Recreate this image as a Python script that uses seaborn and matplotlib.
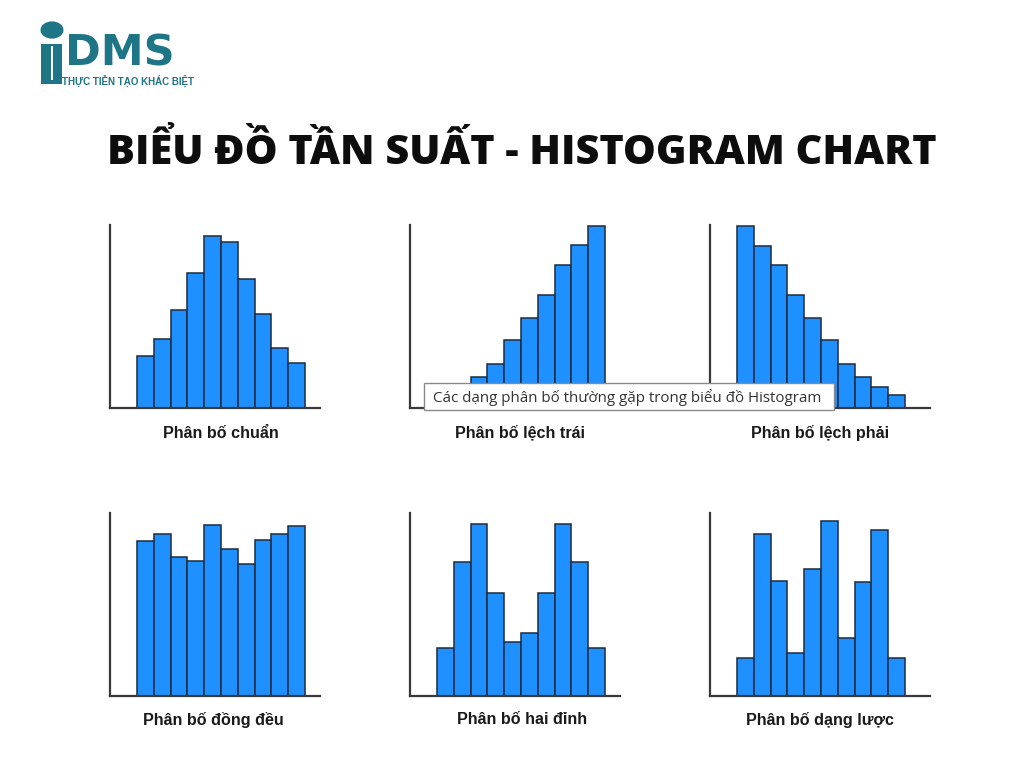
import matplotlib
matplotlib.use("Agg")
import matplotlib.pyplot as plt
import matplotlib.patches as mpatches
import seaborn as sns
import pandas as pd

# ---- data (bar heights, arbitrary frequency units) ----
bins = list(range(1, 11))
chuan = [52, 69, 98, 135, 172, 166, 129, 94, 60, 45]
lech_trai = [13, 21, 31, 44, 68, 90, 113, 143, 163, 182]
lech_phai = [182, 162, 143, 113, 90, 68, 44, 31, 21, 13]
dong_deu = [155, 162, 139, 135, 171, 147, 132, 156, 162, 170]
hai_dinh = [48, 134, 172, 103, 54, 63, 103, 172, 134, 48]
dang_luoc = [38, 162, 115, 43, 127, 175, 58, 114, 166, 38]

labels = ["Phân bố chuẩn", "Phân bố lệch trái", "Phân bố lệch phải",
          "Phân bố đồng đều", "Phân bố hai đỉnh", "Phân bố dạng lược"]
series = [chuan, lech_trai, lech_phai, dong_deu, hai_dinh, dang_luoc]

title = "BIỂU ĐỒ TẦN SUẤT - HISTOGRAM CHART"
tooltip = "Các dạng phân bố thường gặp trong biểu đồ Histogram"
brand = "DMS"
tagline = "THỰC TIỄN TẠO KHÁC BIỆT"

sns.set_theme(style="white")
plt.rcParams['font.family'] = ['Liberation Sans', 'DejaVu Sans']

W, H = 1024, 768
fig = plt.figure(figsize=(W / 100, H / 100), dpi=100)
fig.patch.set_facecolor("white")

def fx(px):
    return px / W

def fy(py):
    return 1 - py / H

# axes layout in pixels: (left, right, baseline, top)
layout = [(110, 320, 408, 225), (410, 620, 408, 225), (710, 930, 408, 225),
          (110, 320, 696, 513), (410, 620, 696, 513), (710, 930, 696, 513)]
label_pos = [(221, 433), (520, 433), (820, 433), (213, 720), (522, 720), (820, 720)]

BAR = "#1E90FF"
EDGE = "#1d2b3f"
unit = 16.8  # px per bin

for vals, (l, r, b, t), lab, (lx, ly) in zip(series, layout, labels, label_pos):
    ax = fig.add_axes([fx(l), fy(b), fx(r - l), (b - t) / H])
    df = pd.DataFrame({"bin": bins, "freq": vals})
    sns.barplot(data=df, x="bin", y="freq", ax=ax, color=BAR, width=1.0,
                edgecolor=EDGE, linewidth=1.1, saturation=1)
    x0 = -0.5 - 27 / unit
    ax.set_xlim(x0, x0 + (r - l) / unit)
    ax.set_ylim(0, b - t)
    ax.set_xticks([])
    ax.set_yticks([])
    ax.set_xlabel("")
    ax.set_ylabel("")
    for s in ["top", "right"]:
        ax.spines[s].set_visible(False)
    for s in ["left", "bottom"]:
        ax.spines[s].set_color("#3a3a3a")
        ax.spines[s].set_linewidth(1.6)
    ax.patch.set_alpha(0)
    fig.text(fx(lx), fy(ly), lab, ha="center", va="center",
             fontsize=11.6, fontweight="bold", color="#1a1a1a")

# title
fig.text(fx(522), fy(153), title, ha="center", va="center",
         fontsize=29.8, fontweight="heavy", color="#0d0d0d",
         family=["Open Sans", "DejaVu Sans"])

# tooltip box
tip = mpatches.Rectangle((fx(424), fy(410)), fx(834 - 424), (410 - 383) / H,
                         transform=fig.transFigure, facecolor="white",
                         edgecolor="#8a8a8a", linewidth=1.0, zorder=10)
fig.add_artist(tip)
fig.text(fx(433), fy(397), tooltip, ha="left", va="center", fontsize=10.9,
         color="#333333", family=["Open Sans", "DejaVu Sans"], zorder=11)

# logo
TEAL = "#1d7585"
fig.add_artist(mpatches.Circle((fx(52), fy(30)), fx(11.5), transform=fig.transFigure,
                               facecolor=TEAL, edgecolor="none"))
fig.add_artist(mpatches.Rectangle((fx(41), fy(84)), fx(21), (84 - 44) / H,
                                  transform=fig.transFigure, facecolor=TEAL,
                                  edgecolor="none"))
fig.add_artist(mpatches.Rectangle((fx(50.5), fy(80)), fx(2), (80 - 46) / H,
                                  transform=fig.transFigure, facecolor="white",
                                  edgecolor="none"))
fig.text(fx(65), fy(74), brand, ha="left", va="bottom", fontsize=31,
         fontweight="bold", color=TEAL, family=["DejaVu Sans"])
fig.text(fx(62), fy(75), tagline, ha="left", va="top", fontsize=7,
         fontweight="bold", color=TEAL, family=["Liberation Sans Narrow", "Liberation Sans", "DejaVu Sans"])

fig.savefig("out.png", dpi=100, facecolor="white")
